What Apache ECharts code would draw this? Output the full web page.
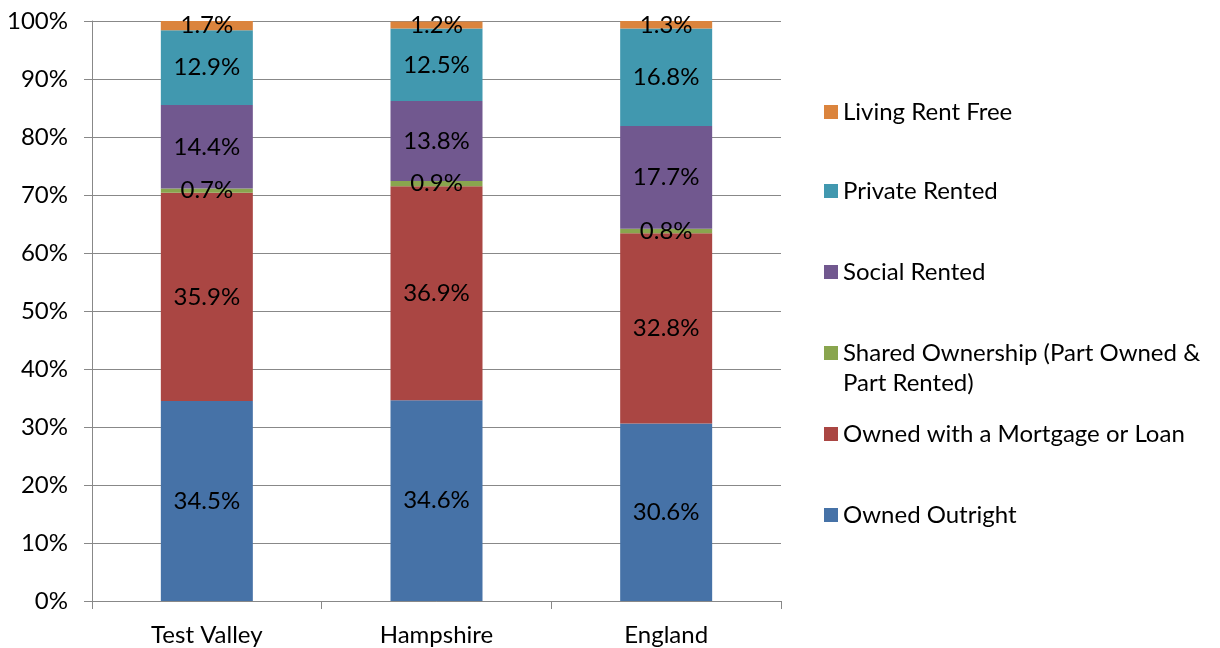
<!DOCTYPE html>
<html>
<head>
<meta charset="utf-8">
<script src="https://cdn.jsdelivr.net/npm/echarts@6/dist/echarts.min.js"></script>
<style>
html,body{margin:0;padding:0;background:#fff;}
#chart{width:1220px;height:648px;}
</style>
</head>
<body>
<div id="chart"></div>
<script>
const categories = ['Test Valley', 'Hampshire', 'England'];
const seriesNames = [
  'Owned Outright',
  'Owned with a Mortgage or Loan',
  'Shared Ownership (Part Owned & Part Rented)',
  'Social Rented',
  'Private Rented',
  'Living Rent Free'
];
const ownedOutright = [34.5, 34.6, 30.6];
const ownedMortgage = [35.9, 36.9, 32.8];
const sharedOwnership = [0.7, 0.9, 0.8];
const socialRented = [14.4, 13.8, 17.7];
const privateRented = [12.9, 12.5, 16.8];
const livingRentFree = [1.7, 1.2, 1.3];
const yTicks = [0, 10, 20, 30, 40, 50, 60, 70, 80, 90, 100];

const values = [ownedOutright, ownedMortgage, sharedOwnership, socialRented, privateRented, livingRentFree];
const colors = ['#4672A7', '#AA4643', '#89A54E', '#71588F', '#4198AF', '#DB843D'];
const FONT = 'Lato';
const FS = 24;

const chart = echarts.init(document.getElementById('chart'), null, {renderer: 'canvas'});

const series = seriesNames.map((name, i) => ({
  name: name,
  type: 'bar',
  stack: 'total',
  barWidth: 92,
  data: values[i],
  itemStyle: {color: colors[i]},
  label: {
    show: true,
    position: 'inside',
    color: '#000',
    fontFamily: FONT,
    fontSize: FS,
    formatter: p => p.value.toFixed(1) + '%'
  },
  emphasis: {disabled: true}
}));

// legend slots (top to bottom): reversed order
const legendOrder = seriesNames.slice().reverse();
const slotCenters = [112, 191, 272, 353, 434, 515];
const legends = legendOrder.map((name, k) => {
  const isShared = name.startsWith('Shared');
  return {
    data: [name],
    orient: 'vertical',
    left: 824,
    padding: 0,
    top: isShared ? slotCenters[k] - 45 : slotCenters[k] - 15,
    icon: 'rect',
    itemWidth: 14,
    itemHeight: 14,
    selectedMode: false,
    textStyle: {fontFamily: FONT, fontSize: FS, color: '#000', lineHeight: 30},
    formatter: n => n.startsWith('Shared') ? '\nShared Ownership (Part Owned &\nPart Rented)' : n
  };
});

chart.setOption({
  animation: false,
  backgroundColor: '#fff',
  color: colors,
  grid: {left: 92, right: 439, top: 21, bottom: 47, containLabel: false},
  legend: legends,
  xAxis: {
    type: 'category',
    data: categories,
    axisLine: {show: true, lineStyle: {color: '#888', width: 1}},
    axisTick: {show: true, length: 8, alignWithLabel: false, lineStyle: {color: '#888'}},
    axisLabel: {fontFamily: FONT, fontSize: FS, color: '#000', margin: 22}
  },
  yAxis: {
    type: 'value',
    min: 0,
    max: 100,
    interval: 10,
    axisLine: {show: true, lineStyle: {color: '#888', width: 1}},
    axisTick: {show: true, length: 8, inside: false, lineStyle: {color: '#888'}},
    axisLabel: {fontFamily: FONT, fontSize: FS, color: '#000', margin: 24,
      formatter: v => yTicks.includes(v) ? v + '%' : ''},
    splitLine: {show: true, lineStyle: {color: '#888', width: 1}}
  },
  series: series
});
</script>
</body>
</html>
